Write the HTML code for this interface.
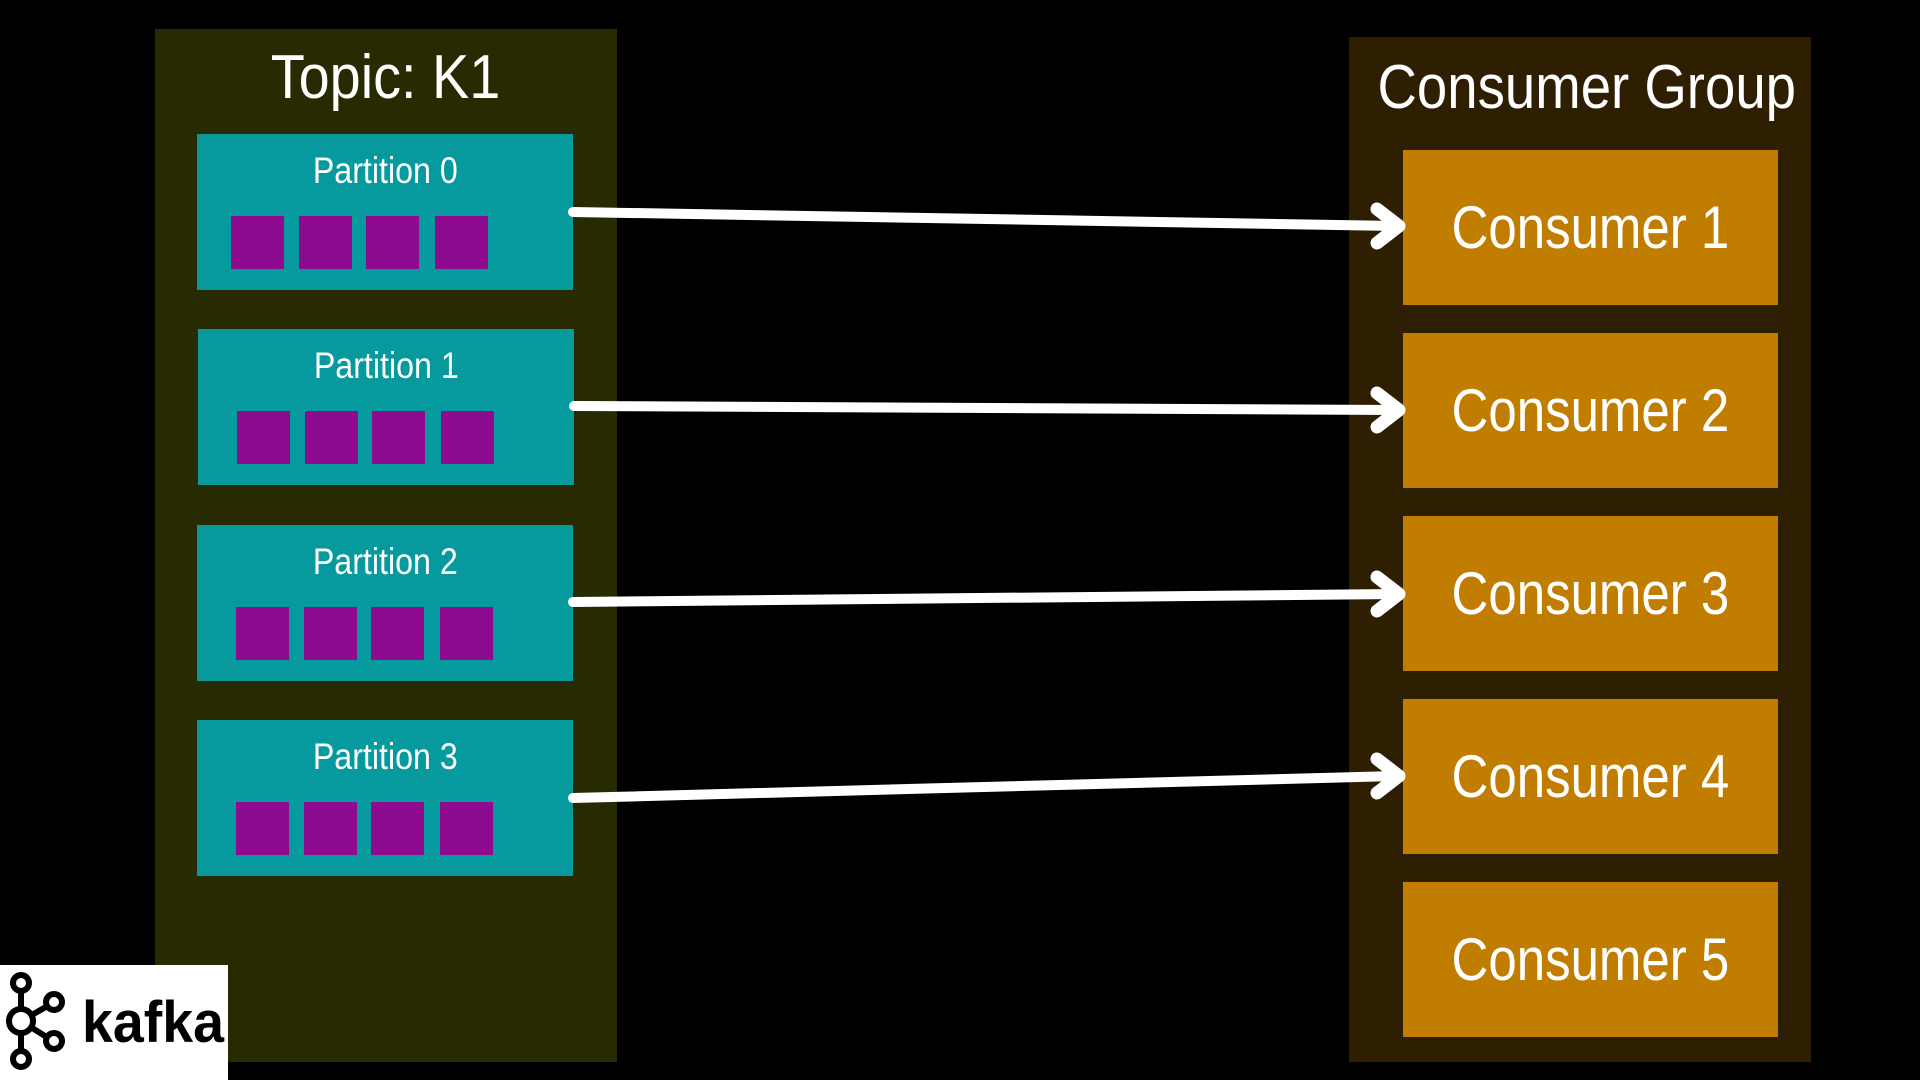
<!DOCTYPE html>
<html><head><meta charset="utf-8"><style>
body{margin:0;width:1920px;height:1080px;background:#000;position:relative;overflow:hidden;font-family:"Liberation Sans Narrow","Liberation Sans",sans-serif;color:#fff}
div{position:absolute;box-sizing:border-box}
span{display:inline-block;transform:scaleX(.87)}
.t{text-align:center;white-space:nowrap}
.p{background:#069a9e;width:376px;height:156px}
.p .t{left:0;right:0;top:16px;font-size:37px}
.sq{background:#8e0a8e;width:53px;height:53px;top:82px}
.c{background:#c17d00;left:1403px;width:375px;height:155px;font-size:60px;line-height:155px;text-align:center;white-space:nowrap}
.c span{transform:scaleX(.85)}
</style></head><body>
<div style="left:155px;top:29px;width:462px;height:1033px;background:#282b02"></div>
<div class="t" style="left:155px;width:462px;top:42px;font-size:62px"><span style="transform:scaleX(.9)">Topic: K1</span></div>
<div style="left:1349px;top:37px;width:462px;height:1025px;background:#2e1f02"></div>
<div class="t" style="left:1349px;width:462px;top:52px;font-size:62px"><span style="transform:scaleX(.88)">Consumer Group</span></div>

<div class="p" style="left:197px;top:134px"><div class="t"><span>Partition 0</span></div><div class="sq" style="left:34px"></div><div class="sq" style="left:102px"></div><div class="sq" style="left:169px"></div><div class="sq" style="left:238px"></div></div>
<div class="p" style="left:198px;top:329px"><div class="t"><span>Partition 1</span></div><div class="sq" style="left:39px"></div><div class="sq" style="left:107px"></div><div class="sq" style="left:174px"></div><div class="sq" style="left:243px"></div></div>
<div class="p" style="left:197px;top:525px"><div class="t"><span>Partition 2</span></div><div class="sq" style="left:39px"></div><div class="sq" style="left:107px"></div><div class="sq" style="left:174px"></div><div class="sq" style="left:243px"></div></div>
<div class="p" style="left:197px;top:720px"><div class="t"><span>Partition 3</span></div><div class="sq" style="left:39px"></div><div class="sq" style="left:107px"></div><div class="sq" style="left:174px"></div><div class="sq" style="left:243px"></div></div>

<div class="c" style="top:150px"><span>Consumer 1</span></div>
<div class="c" style="top:333px"><span>Consumer 2</span></div>
<div class="c" style="top:516px"><span>Consumer 3</span></div>
<div class="c" style="top:699px"><span>Consumer 4</span></div>
<div class="c" style="top:882px"><span>Consumer 5</span></div>

<svg style="position:absolute;left:0;top:0" width="1920" height="1080">
<g stroke="#fff" stroke-width="10" fill="none" stroke-linecap="round" stroke-linejoin="round">
<line x1="573" y1="212" x2="1396" y2="226"/>
<polyline points="1377,209 1399,226 1377,243" stroke-width="13"/>
<line x1="574" y1="406" x2="1396" y2="410"/>
<polyline points="1377,393 1399,410 1377,427" stroke-width="13"/>
<line x1="573" y1="602" x2="1396" y2="594"/>
<polyline points="1377,577 1399,594 1377,611" stroke-width="13"/>
<line x1="573" y1="798" x2="1396" y2="776"/>
<polyline points="1377,759 1399,776 1377,793" stroke-width="13"/>
</g>
<rect x="0" y="965" width="228" height="115" fill="#fff"/>
<g stroke="#000" stroke-width="6" fill="none">
<line x1="21" y1="985" x2="21" y2="1058"/>
<line x1="21" y1="1021" x2="53" y2="1003"/>
<line x1="21" y1="1021" x2="53" y2="1041"/>
<circle cx="21" cy="983" r="8" fill="#fff"/>
<circle cx="21" cy="1021" r="12" fill="#fff"/>
<circle cx="21" cy="1059" r="8" fill="#fff"/>
<circle cx="54" cy="1002" r="8" fill="#fff"/>
<circle cx="54" cy="1041" r="8" fill="#fff"/>
</g>
<text x="82" y="1042" font-family="Liberation Sans, sans-serif" font-size="58" font-weight="bold" fill="#000" textLength="142" lengthAdjust="spacingAndGlyphs">kafka</text>
</svg>
</body></html>
